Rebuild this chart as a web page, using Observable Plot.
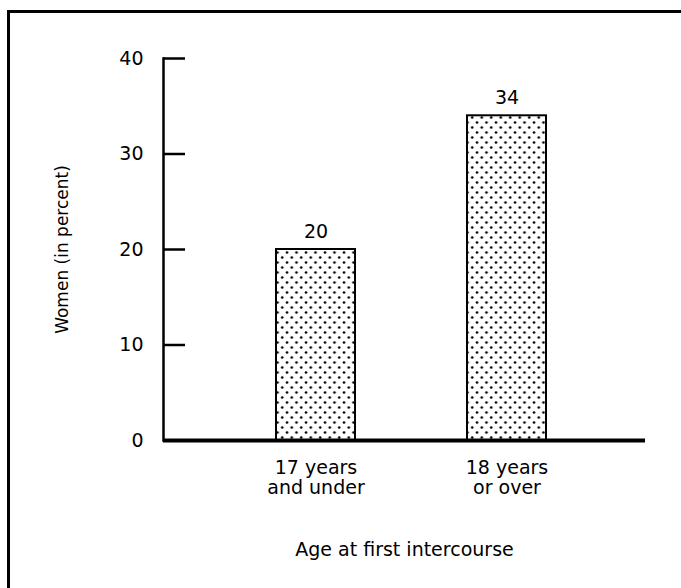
<!DOCTYPE html>
<html><head><meta charset="utf-8">
<script src="https://cdn.jsdelivr.net/npm/d3@7"></script>
<script src="https://cdn.jsdelivr.net/npm/@observablehq/plot@0.6"></script>
<style>
body{margin:0;background:#fff;}
#wrap{position:relative;width:681px;height:588px;overflow:hidden;}
#border{position:absolute;left:7px;top:10px;right:-10px;bottom:-10px;border-top:3px solid #000;border-left:3px solid #000;pointer-events:none;}
</style></head><body><div id="wrap"><div id="border"></div></div>
<script>
const categories = ["17 years\nand under", "18 years\nor over"];
const values = [20, 34];
const yTicks = [0, 10, 20, 30, 40];
const yLabel = "Women (in percent)";
const xLabel = "Age at first intercourse";

const data = categories.map((c, i) => ({category: c, value: values[i]}));

const chart = Plot.plot({
  width: 681,
  height: 588,
  marginLeft: 163,
  marginRight: 36,
  marginTop: 58,
  marginBottom: 148,
  style: {fontFamily: "'DejaVu Sans', 'Liberation Sans', Arial, sans-serif", fontSize: "19px", color: "#000", background: "transparent", overflow: "visible"},
  x: {domain: categories, range: [163, 659.5], paddingInner: 0.5875, paddingOuter: 0.59},
  y: {domain: [0, 40]},
  marks: [
    Plot.barY(data, {x: "category", y: "value", fill: "url(#dots)", stroke: "#000", strokeWidth: 2}),
    Plot.text(data, {x: "category", y: "value", text: d => String(d.value), dy: -18, fontSize: 19}),
    Plot.ruleY(yTicks, {y: d => d, insetRight: 460, strokeWidth: 2.5}),
    Plot.frame({anchor: "left", strokeWidth: 2.5}),
    Plot.ruleY([0], {strokeWidth: 4}),
    Plot.axisY({ticks: yTicks, tickSize: 0, tickPadding: 20, label: null, fontSize: 19}),
    Plot.axisX({tickSize: 0, tickPadding: 19, label: null, lineHeight: 1.05, fontSize: 19}),
    Plot.text([yLabel], {frameAnchor: "left", textAnchor: "middle", dx: -101, rotate: -90, fontSize: 17}),
    Plot.text([xLabel], {frameAnchor: "bottom", dy: 110, fontSize: 19, dy: 115})
  ]
});

const svg = d3.select(chart);
const pat = svg.insert("defs", ":first-child").append("pattern")
  .attr("id", "dots").attr("patternUnits", "userSpaceOnUse")
  .attr("width", 9.5).attr("height", 10);
pat.append("rect").attr("width", 9.5).attr("height", 10).attr("fill", "#fff");
pat.append("circle").attr("cx", 2).attr("cy", 2.5).attr("r", 1.3).attr("fill", "#000");
pat.append("circle").attr("cx", 6.75).attr("cy", 7.5).attr("r", 1.3).attr("fill", "#000");

document.getElementById("wrap").appendChild(chart);
</script>
</body></html>
